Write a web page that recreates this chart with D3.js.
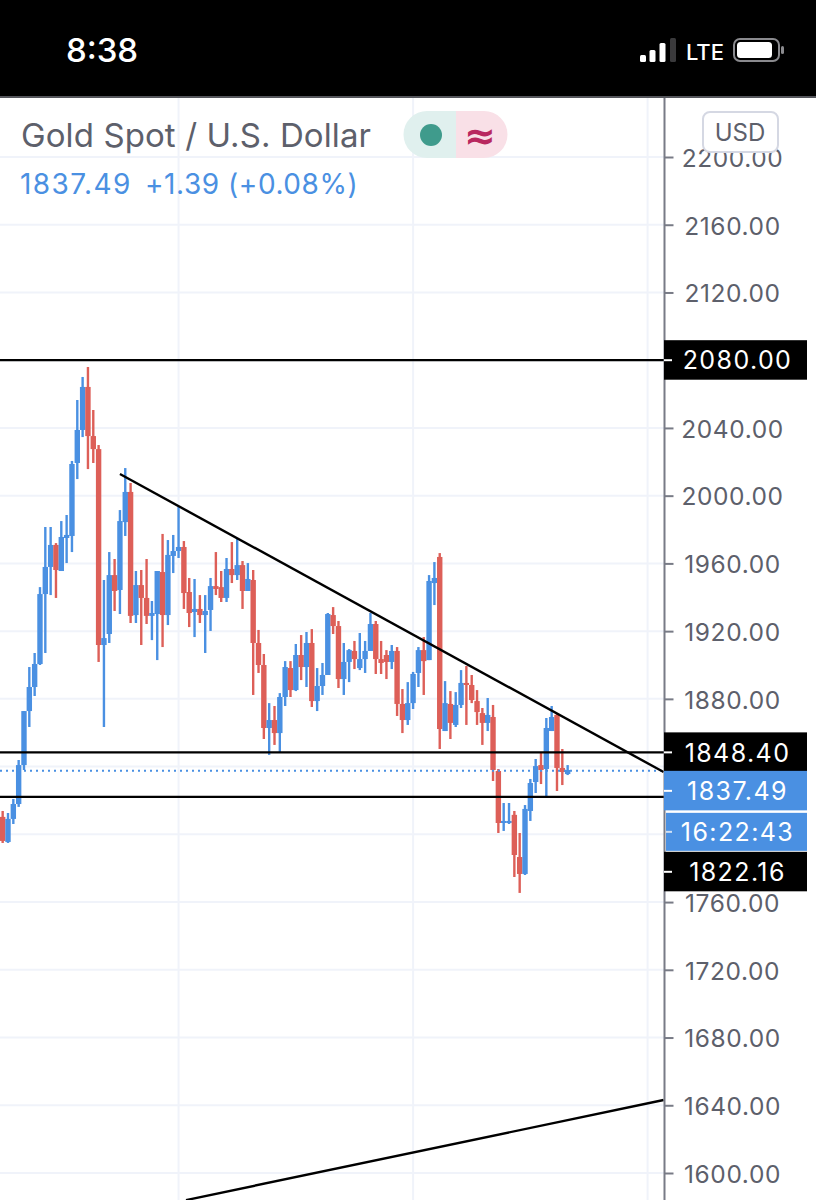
<!DOCTYPE html>
<html><head><meta charset="utf-8">
<script src="https://cdn.jsdelivr.net/npm/d3@7"></script>
<style>html,body{margin:0;padding:0;background:#fff}svg{display:block}svg{font-family:Inter,Roboto,sans-serif}</style>
</head><body><svg id="c" width="816" height="1200"></svg>
<script>
const title = "Gold Spot / U.S. Dollar";
const quotePrice = "1837.49";
const quoteChange = "+1.39 (+0.08%)";
const statusTime = "8:38";
const axisTicks = [2200,2160,2120,2080,2040,2000,1960,1920,1880,1840,1800,1760,1720,1680,1640,1600];
const hiddenTicks = [2080,1840,1800];
const opens = [1810.3,1795.5,1809.1,1817.9,1840.9,1872.8,1887.0,1900.6,1941.9,1957.9,
1970.9,1955.5,1975.0,1976.2,2019.3,2038.8,2064.2,2035.2,2027.5,1911.8,
1918.3,1953.1,1944.3,1984.4,2002.2,1929.5,1947.2,1939.6,1929.0,1930.1,
1954.9,1929.5,1964.4,1967.3,1969.7,1943.1,1931.3,1933.1,1929.5,1932.5,
1946.6,1946.0,1939.6,1956.7,1953.1,1959.0,1943.7,1950.2,1913.0,1900.0,
1862.8,1867.5,1859.8,1881.1,1898.2,1885.2,1905.9,1898.8,1913.0,1878.7,
1887.6,1894.1,1929.5,1923.0,1891.7,1901.8,1908.3,1898.2,1903.5,1908.3,
1924.2,1903.5,1905.9,1901.8,1908.3,1877.0,1867.5,1877.5,1895.3,1908.8,
1902.9,1948.4,1963.8,1861.0,1877.0,1864.6,1876.4,1889.4,1888.2,1878.7,
1871.6,1865.8,1869.3,1837.4,1806.7,1806.7,1811.5,1786.6,1776.6,1813.8,
1830.9,1840.9,1838.6,1861.0,1870.5,1839.2,1835.6];
const highs = [1813.8,1812.6,1820.9,1843.9,1872.8,1898.8,1907.1,1946.0,1981.5,1981.5,
1972.0,1985.0,1988.6,2020.5,2056.5,2070.1,2076.0,2050.6,2029.9,1950.2,
1966.7,1962.6,1991.5,2016.3,2007.5,1955.5,1956.1,1962.6,1937.8,1955.5,
1977.4,1973.8,1976.8,1993.3,1973.2,1951.4,1950.8,1941.3,1941.3,1951.4,
1966.7,1955.5,1963.2,1972.6,1974.4,1961.4,1960.2,1956.1,1920.7,1906.5,
1877.5,1875.8,1883.4,1902.3,1902.3,1912.4,1917.7,1919.5,1921.2,1898.2,
1901.2,1930.7,1934.2,1926.0,1913.0,1909.4,1914.2,1918.9,1914.2,1930.7,
1926.0,1914.2,1908.8,1911.8,1910.6,1885.8,1889.9,1895.9,1910.6,1916.5,
1953.1,1960.8,1966.1,1890.5,1884.6,1884.0,1897.0,1899.4,1894.1,1885.2,
1874.6,1880.5,1876.4,1838.6,1818.5,1818.5,1813.8,1800.8,1817.3,1832.7,
1844.5,1848.0,1868.7,1875.8,1871.6,1850.4,1840.9];
const lows = [1794.9,1794.9,1806.1,1816.2,1838.0,1863.4,1881.7,1900.0,1907.1,1941.3,
1939.6,1955.5,1960.2,1966.7,2009.8,2034.6,2015.7,2019.3,1901.8,1863.4,
1913.0,1931.9,1930.1,1976.2,1924.8,1924.8,1911.8,1924.2,1914.7,1902.9,
1910.6,1923.6,1954.3,1963.2,1933.1,1922.4,1916.5,1924.8,1907.1,1920.1,
1941.3,1937.2,1937.2,1948.4,1950.2,1933.1,1943.7,1882.3,1895.3,1856.3,
1846.9,1852.8,1848.6,1875.8,1881.1,1884.6,1891.1,1887.0,1875.2,1872.8,
1882.3,1894.1,1918.3,1886.4,1882.3,1889.9,1897.6,1897.0,1895.3,1908.3,
1894.7,1894.7,1891.7,1897.6,1869.9,1859.8,1864.6,1874.0,1887.0,1882.3,
1902.9,1935.4,1850.4,1861.0,1856.3,1863.4,1874.6,1864.6,1877.5,1864.6,
1852.8,1861.0,1831.5,1800.8,1802.0,1806.1,1774.8,1765.4,1776.0,1807.9,
1824.4,1829.7,1822.6,1861.0,1825.6,1829.1,1835.0];
const closes = [1796.1,1809.1,1817.9,1840.9,1872.8,1887.0,1900.6,1941.9,1957.9,1970.9,
1956.1,1975.6,1976.8,2018.7,2038.8,2064.2,2035.2,2027.5,1911.8,1915.9,
1953.1,1943.7,1985.0,2002.2,1929.0,1947.2,1939.6,1929.0,1930.7,1955.5,
1929.5,1965.0,1967.3,1969.7,1942.5,1930.7,1933.1,1929.5,1931.9,1946.6,
1944.9,1939.6,1956.7,1953.1,1959.0,1943.7,1950.8,1913.0,1900.0,1862.8,
1867.5,1859.8,1881.1,1898.8,1885.2,1905.9,1898.8,1913.0,1878.7,1887.6,
1894.1,1930.1,1923.0,1891.7,1901.8,1908.8,1903.5,1903.5,1908.3,1924.2,
1903.5,1901.2,1901.8,1908.3,1877.0,1867.5,1877.5,1894.7,1908.8,1902.3,
1949.6,1951.4,1862.2,1877.5,1865.8,1876.4,1889.4,1888.2,1879.3,1872.2,
1865.8,1870.5,1838.0,1806.7,1807.9,1807.9,1787.8,1776.6,1815.0,1830.3,
1840.3,1838.0,1862.8,1869.3,1839.2,1836.8,1838.0];
const hLines = [2080,1848.40,1822.16];
const lastPrice = 1837.49;
const downTrend = [[22,2012.8],[124,1836.8]];
const upTrend = [[34.4,1584.0],[124,1643.1]];
const gridIdx = [33,77,121];
const tags = [
 {t:"2080.00",price:2080,fill:"#000"},
 {t:"1848.40",price:1848.40,fill:"#000"},
 {t:"1837.49",price:1837.49,fill:"#4a90e2",nudge:20},
 {t:"16:22:43",price:1837.49,fill:"#4a90e2",nudge:61,small:true},
 {t:"1822.16",price:1822.16,fill:"#000",nudge:75}
];
const BLUE="#4a90e2",RED="#dd5f58",GRID="#f0f3fa",TXT="#5d606b";
const svg=d3.select("#c");
const x=d3.scaleLinear().domain([0,106]).range([2.67,567.65]);
const y=d3.scaleLinear().domain([2200,1600]).range([157,1173]);
const AX=664.5;

// grid
svg.append("g").selectAll("line").data(axisTicks).join("line")
 .attr("x1",0).attr("x2",AX).attr("y1",d=>y(d)).attr("y2",d=>y(d)).attr("stroke",GRID).attr("stroke-width",2);
svg.append("g").selectAll("line").data(gridIdx).join("line")
 .attr("x1",d=>x(d)).attr("x2",d=>x(d)).attr("y1",98).attr("y2",1200).attr("stroke",GRID).attr("stroke-width",2);

// candles
const idx=d3.range(opens.length);
const col=i=>closes[i]>=opens[i]?BLUE:RED;
const cg=svg.append("g").selectAll("g").data(idx).join("g");
cg.append("line").attr("x1",i=>x(i)).attr("x2",i=>x(i)).attr("y1",i=>y(highs[i])).attr("y2",i=>y(lows[i])).attr("stroke",col).attr("stroke-width",2.4);
cg.append("rect").attr("x",i=>x(i)-2.7).attr("width",5.4)
 .attr("y",i=>y(Math.max(opens[i],closes[i])))
 .attr("height",i=>Math.max(2,Math.abs(y(opens[i])-y(closes[i])))).attr("fill",col);

// price lines
svg.append("line").attr("x1",0).attr("x2",AX).attr("y1",y(lastPrice)).attr("y2",y(lastPrice))
 .attr("stroke",BLUE).attr("stroke-width",2).attr("stroke-dasharray","2 4");
svg.append("g").selectAll("line").data(hLines).join("line")
 .attr("x1",0).attr("x2",AX).attr("y1",d=>y(d)).attr("y2",d=>y(d)).attr("stroke","#000").attr("stroke-width",2.2);
const tl=d3.line().x(d=>x(d[0])).y(d=>y(d[1]));
[downTrend,upTrend].forEach(s=>svg.append("path").attr("d",tl(s)).attr("fill","none").attr("stroke","#000").attr("stroke-width",2.4));

// axis
const axis=d3.axisRight(y).tickValues(axisTicks.filter(d=>!hiddenTicks.includes(d))).tickFormat(d3.format(".2f")).tickSize(9).tickPadding(10);
const ag=svg.append("g").attr("transform",`translate(${AX},0)`).call(axis);
ag.attr("font-family",null);
ag.select(".domain").remove();
ag.selectAll(".tick line").attr("stroke","#787b86").attr("stroke-width",2);
ag.selectAll(".tick text").attr("fill",TXT).attr("font-size",24.5).attr("letter-spacing",.6)
 .attr("text-anchor","middle").attr("x",68).attr("dy","0.38em");
svg.append("line").attr("x1",AX).attr("x2",AX).attr("y1",98).attr("y2",1200).attr("stroke","#787b86").attr("stroke-width",2);

// tags
const tg=svg.append("g").selectAll("g").data(tags).join("g")
 .attr("transform",d=>`translate(0,${y(d.price)+(d.nudge||0)})`);
tg.append("rect").attr("x",d=>d.small?666:664).attr("width",d=>d.small?141:143)
 .attr("y",d=>d.small?-19:-20).attr("height",d=>d.small?38:39.5).attr("fill",d=>d.fill);
tg.append("line").attr("x1",d=>d.small?666:664).attr("x2",672).attr("y1",0).attr("y2",0)
 .attr("stroke",d=>d.small?"#cfe0f5":"#fff").attr("stroke-width",2);
tg.append("text").text(d=>d.t).attr("x",737.5).attr("text-anchor","middle").attr("dy","0.37em")
 .attr("fill","#fff").attr("font-size",25).attr("letter-spacing",1.4);

// status bar
svg.append("rect").attr("width",816).attr("height",96).attr("fill","#000");
svg.append("rect").attr("y",96).attr("width",816).attr("height",2).attr("fill","#55565c");
svg.append("text").text(statusTime).attr("x",102).attr("y",62).attr("text-anchor","middle").attr("fill","#fff").attr("font-size",33).attr("font-weight",500);
const sig=[[640,6,7],[649.5,6,12],[659.5,6,19],[670,6,24]];
svg.append("g").selectAll("rect").data(sig).join("rect").attr("x",d=>d[0]).attr("width",d=>d[1]).attr("y",d=>62-d[2]).attr("height",d=>d[2]).attr("rx",1.5).attr("fill",(d,i)=>i==3?"#3a3a3c":"#fff");
svg.append("text").text("LTE").attr("x",686).attr("y",60).attr("fill","#fff").attr("font-size",22).attr("font-weight",500);
svg.append("rect").attr("x",734).attr("y",39).attr("width",45).attr("height",22).attr("rx",6).attr("fill","none").attr("stroke","#8a8a8e").attr("stroke-width",2);
svg.append("rect").attr("x",737).attr("y",42).attr("width",35).attr("height",16).attr("rx",3.5).attr("fill","#fff");
svg.append("rect").attr("x",781).attr("y",46).attr("width",3).attr("height",8).attr("rx",1.5).attr("fill","#8a8a8e");

// header
svg.append("text").text(title).attr("x",21).attr("y",147).attr("fill",TXT).attr("font-size",33).attr("letter-spacing",.1);
const q=svg.append("text").attr("y",194).attr("fill",BLUE).attr("font-size",28);
q.append("tspan").text(quotePrice).attr("x",20).attr("letter-spacing",1.4);
q.append("tspan").text(quoteChange).attr("x",145).attr("letter-spacing",.55);
svg.append("path").attr("d","M456 111H427a23.5 23.5 0 0 0 0 47H456Z").attr("fill","#e0f0ee");
svg.append("path").attr("d","M456 111H484a23.5 23.5 0 0 1 0 47H456Z").attr("fill","#f9e0e7");
svg.append("circle").attr("cx",431).attr("cy",135).attr("r",11).attr("fill","#3f9b8c");
svg.append("text").text("≈").attr("x",480).attr("y",149).attr("text-anchor","middle").attr("fill","#b8285f").attr("font-size",38).attr("font-weight",700).attr("font-family","DejaVu Sans");
svg.append("rect").attr("x",703).attr("y",112).attr("width",75).attr("height",40).attr("rx",7).attr("fill","#fff").attr("stroke","#d5d8e3").attr("stroke-width",2);
svg.append("text").text("USD").attr("x",740).attr("y",141).attr("text-anchor","middle").attr("fill",TXT).attr("font-size",24);
</script></body></html>
